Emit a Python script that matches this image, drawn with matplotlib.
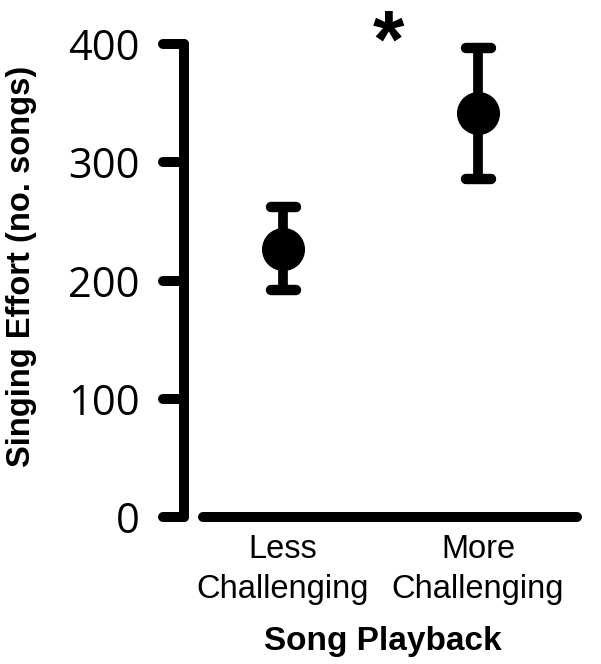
import matplotlib
matplotlib.use("Agg")
import matplotlib.pyplot as plt
from matplotlib.markers import MarkerStyle

# data
categories = ["Less\nChallenging", "More\nChallenging"]
means = [227, 342]
err_low = [35, 56]
err_high = [35, 55]
y_ticks = [0, 100, 200, 300, 400]
signif = "*"

fig = plt.figure(figsize=(6.01, 6.64), dpi=100)
ax = fig.add_axes([0.3062, 0.2214, 0.6622, 0.7123])

x = [1, 2]
eb = ax.errorbar(x, means, yerr=[err_low, err_high], fmt="o", color="black",
                 markersize=30, elinewidth=7, capsize=9, capthick=7.5,
                 clip_on=False, zorder=3)
for cl in eb[1]:
    cl.set_marker(MarkerStyle("_", capstyle="round"))
for lc in eb[2]:
    lc.set_capstyle("round")

ax.set_xlim(0.492, 2.533)
ax.set_ylim(0, 400)

# x axis drawn as a separate rounded line, detached from the y spine
ax.plot([0.59, 2.508], [0, 0], color="black", lw=7.2,
        solid_capstyle="round", clip_on=False, zorder=2)

for s in ["top", "right", "bottom"]:
    ax.spines[s].set_visible(False)
ax.spines["left"].set_linewidth(7.2)
ax.spines["left"].set_capstyle("round")

ax.set_yticks(y_ticks)
ax.set_yticklabels([str(v) for v in y_ticks], fontfamily="Open Sans", fontsize=30)
ax.tick_params(axis="y", length=15, width=7.2, pad=17)
for t in ax.yaxis.get_major_ticks():
    t.tick1line.set_marker(MarkerStyle(matplotlib.lines.TICKLEFT, capstyle="round"))

ax.set_xticks(x)
ax.set_xticklabels(categories, fontfamily="Liberation Sans", fontsize=23.5,
                   linespacing=1.4)
ax.tick_params(axis="x", length=0, pad=12)

ax.set_xlabel("Song Playback", fontfamily="Liberation Sans", fontweight="bold",
              fontsize=24, labelpad=15)
ax.set_ylabel("Singing Effort (no. songs)", fontfamily="Liberation Sans",
              fontweight="bold", fontsize=23.5)
ax.yaxis.set_label_coords(-0.37, 0.53)

ax.text(1.54, 399, signif, ha="center", va="center", fontsize=58,
        fontweight="bold", fontfamily="Liberation Sans", clip_on=False)

fig.savefig("out.png", dpi=100)
